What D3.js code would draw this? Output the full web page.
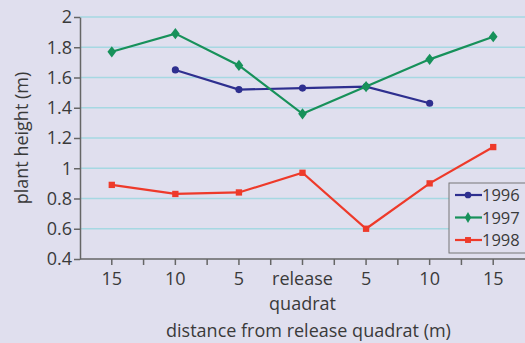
<!DOCTYPE html>
<html>
<head>
<meta charset="utf-8">
<script src="https://cdn.jsdelivr.net/npm/d3@7"></script>
<style>
  body { margin: 0; background: #e0dfee; }
  text { font-family: "Open Sans", "DejaVu Sans", sans-serif; fill: #3a3a3a; }
</style>
</head>
<body>
<div id="chart"></div>
<script>
const categories = ['15', '10', '5', 'release', '5 ', '10 ', '15 '];
const yTicks = [0.4, 0.6, 0.8, 1, 1.2, 1.4, 1.6, 1.8, 2];
const s1996 = [null, 1.65, 1.52, 1.53, 1.54, 1.43, null];
const s1997 = [1.77, 1.89, 1.68, 1.36, 1.54, 1.72, 1.87];
const s1998 = [0.89, 0.83, 0.84, 0.97, 0.60, 0.90, 1.14];
const seriesNames = ['1996', '1997', '1998'];
const colors = ['#2e2f8f', '#17915a', '#ee3a2a'];
const symbols = [d3.symbolCircle, d3.symbolDiamond, d3.symbolSquare];

const width = 525, height = 343;
const margin = {top: 17, right: 0, bottom: 84, left: 80};

let svg = d3.select('#chart').append('svg')
    .attr('width', width)
    .attr('height', height);

let x = d3.scaleBand()
    .domain(categories)
    .range([margin.left, width - margin.right]);

let y = d3.scaleLinear()
    .domain([0.4, 2])
    .range([height - margin.bottom, margin.top]);

// grid
svg.append('g')
    .selectAll('line')
    .data(yTicks.slice(1))
    .enter()
    .append('line')
    .attr('x1', margin.left)
    .attr('x2', width)
    .attr('y1', d => y(d))
    .attr('y2', d => y(d))
    .attr('stroke', '#a6d8e2')
    .attr('stroke-width', 1.5);

// y axis
let yAxis = svg.append('g')
    .attr('transform', `translate(${margin.left},0)`)
    .call(d3.axisLeft(y).tickValues(yTicks).tickFormat(d3.format('')).tickSize(6).tickSizeOuter(0));
yAxis.select('.domain').attr('stroke', '#666').attr('stroke-width', 1.5);
yAxis.selectAll('.tick line').attr('stroke', '#666').attr('stroke-width', 1.5);
yAxis.selectAll('.tick text').attr('font-size', 18).attr('x', -8).style('fill', '#3a3a3a');

// x axis: ticks at band edges and centers
let xAxisG = svg.append('g')
    .attr('transform', `translate(0,${y(0.4)})`);
xAxisG.append('line')
    .attr('x1', margin.left).attr('x2', width)
    .attr('stroke', '#666').attr('stroke-width', 1.5);
let tickPos = [];
categories.forEach(c => {
    tickPos.push(x(c));
    tickPos.push(x(c) + x.bandwidth() / 2);
});
xAxisG.selectAll('.xt')
    .data(tickPos.slice(1))
    .enter()
    .append('line')
    .attr('x1', d => d).attr('x2', d => d)
    .attr('y1', 0).attr('y2', 6)
    .attr('stroke', '#666').attr('stroke-width', 1.5);
xAxisG.selectAll('.xl')
    .data(categories)
    .enter()
    .append('text')
    .attr('x', d => x(d) + x.bandwidth() / 2)
    .attr('y', 26)
    .attr('text-anchor', 'middle')
    .attr('font-size', 18)
    .text(d => d.trim());
xAxisG.append('text')
    .attr('x', x('release') + x.bandwidth() / 2)
    .attr('y', 51)
    .attr('text-anchor', 'middle')
    .attr('font-size', 18)
    .text('quadrat');

svg.append('text')
    .attr('x', x('release') + x.bandwidth() / 2 + 6)
    .attr('y', 337)
    .attr('text-anchor', 'middle')
    .attr('font-size', 18)
    .text('distance from release quadrat (m)');

svg.append('text')
    .attr('transform', 'translate(28,' + (y(1.2)) + ') rotate(-90)')
    .attr('text-anchor', 'middle')
    .attr('font-size', 18)
    .text('plant height (m)');

// series
let allSeries = [s1996, s1997, s1998];
let line = d3.line()
    .defined(d => d[1] != null)
    .x(d => x(d[0]) + x.bandwidth() / 2)
    .y(d => y(d[1]));

allSeries.forEach((s, i) => {
    let pts = categories.map((c, j) => [c, s[j]]);
    svg.append('path')
        .datum(pts)
        .attr('fill', 'none')
        .attr('stroke', colors[i])
        .attr('stroke-width', 2.2)
        .attr('d', line);
    svg.append('g')
        .selectAll('path')
        .data(pts.filter(d => d[1] != null))
        .enter()
        .append('path')
        .attr('d', d3.symbol().type(symbols[i]).size(i == 1 ? 45 : 40))
        .attr('fill', colors[i])
        .attr('transform', d => `translate(${x(d[0]) + x.bandwidth() / 2},${y(d[1])})` + (i == 1 ? ' scale(1.2,0.9)' : ''));
});

// legend
let legend = svg.append('g').attr('transform', 'translate(449,183)');
legend.append('rect')
    .attr('width', 80).attr('height', 70)
    .attr('fill', '#e0dfee')
    .attr('stroke', '#777').attr('stroke-width', 1);
seriesNames.forEach((name, i) => {
    let g = legend.append('g').attr('transform', `translate(0,${12 + i * 22.5})`);
    g.append('line').attr('x1', 6).attr('x2', 33).attr('stroke', colors[i]).attr('stroke-width', 2.2);
    g.append('path')
        .attr('d', d3.symbol().type(symbols[i]).size(35))
        .attr('fill', colors[i])
        .attr('transform', 'translate(19,0)');
    g.append('text').attr('x', 33).attr('y', 6).attr('font-size', 16.5).text(name);
});
</script>
</body>
</html>
